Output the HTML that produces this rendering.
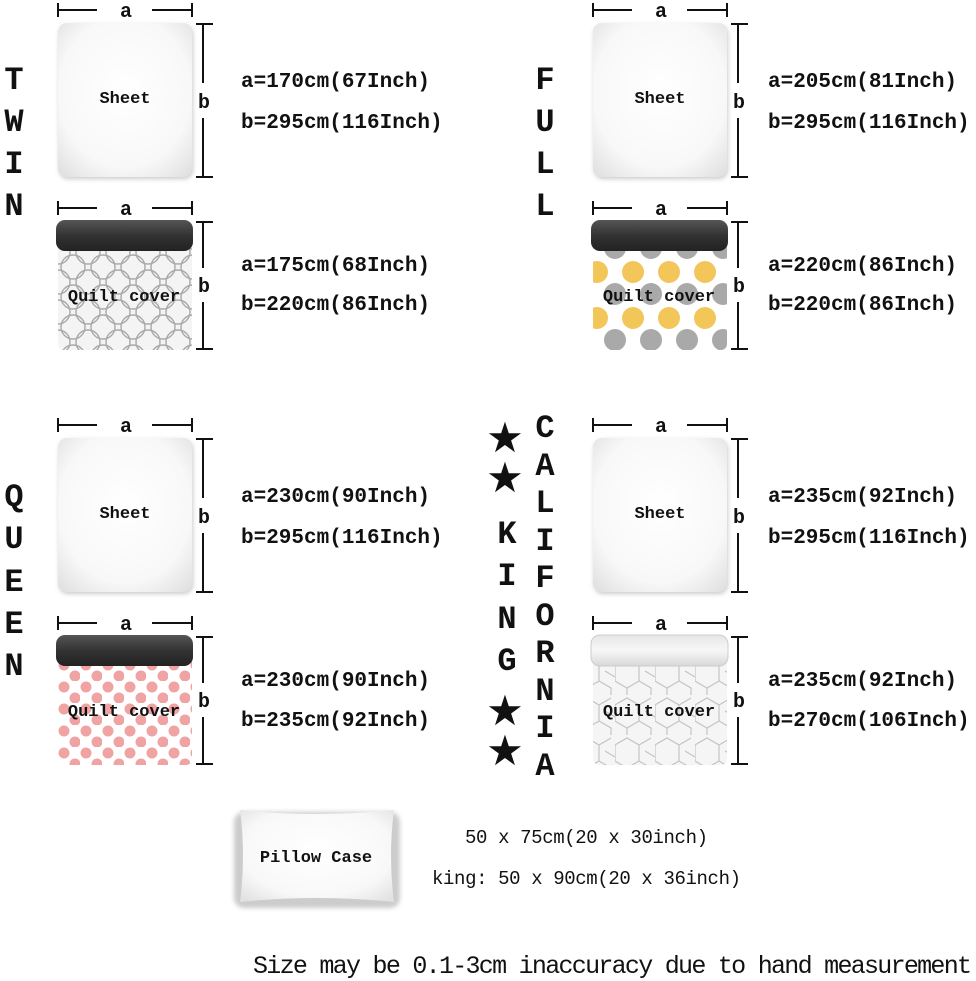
<!DOCTYPE html>
<html><head><meta charset="utf-8"><style>
html,body{margin:0;padding:0;background:#fff;}
svg{display:block;}
text{font-family:"Liberation Mono",monospace;font-weight:bold;fill:#111;}
</style></head><body>
<svg width="976" height="981" viewBox="0 0 976 981" xmlns="http://www.w3.org/2000/svg">
<defs>
<radialGradient id="sh" cx="50%" cy="45%" r="70%">
<stop offset="0" stop-color="#ffffff"/><stop offset="0.7" stop-color="#f8f8f8"/><stop offset="1" stop-color="#e2e2e2"/>
</radialGradient>
<linearGradient id="band" x1="0" y1="0" x2="0" y2="1">
<stop offset="0" stop-color="#555"/><stop offset="0.5" stop-color="#333"/><stop offset="1" stop-color="#222"/>
</linearGradient>
<linearGradient id="bandw" x1="0" y1="0" x2="0" y2="1">
<stop offset="0" stop-color="#e6e6e6"/><stop offset="0.5" stop-color="#f7f7f7"/><stop offset="1" stop-color="#d8d8d8"/>
</linearGradient>
<pattern id="circ" width="30" height="30" patternUnits="userSpaceOnUse" x="58" y="222">
<rect width="30" height="30" fill="#f4f4f4"/>
<g fill="none" stroke="#aaa" stroke-width="1.4">
<circle cx="15" cy="15" r="12"/>
<circle cx="0" cy="0" r="12"/><circle cx="30" cy="0" r="12"/><circle cx="0" cy="30" r="12"/><circle cx="30" cy="30" r="12"/></g>
</pattern>
<pattern id="dots2" width="36" height="46" patternUnits="userSpaceOnUse" x="593" y="248">
<rect width="36" height="46" fill="#fff"/>
<circle cx="22" cy="0" r="11" fill="#a9a9a9"/><circle cx="22" cy="46" r="11" fill="#a9a9a9"/>
<circle cx="4" cy="24" r="11" fill="#f2c659"/><circle cx="40" cy="24" r="11" fill="#f2c659"/>
</pattern>
<pattern id="flow" width="22" height="22" patternUnits="userSpaceOnUse" x="58" y="637">
<rect width="22" height="22" fill="#fff"/>
<g fill="#f0a3a3">
<circle cx="6" cy="6" r="5.5"/><circle cx="17" cy="17" r="5.5"/></g>
</pattern>
<pattern id="hex" width="40" height="40" patternUnits="userSpaceOnUse">
<rect width="40" height="40" fill="#f5f5f5"/>
<g fill="none" stroke="#c4c4c4" stroke-width="1.2">
<path d="M0 10 L12 3 L24 10 L24 26 L12 33 L0 26 Z"/><path d="M24 10 L36 3 M24 26 L36 33 L36 40 M12 33 L12 40 M30 16 L40 22"/></g>
</pattern>
<filter id="shd" x="-10%" y="-10%" width="120%" height="120%"><feGaussianBlur stdDeviation="2"/></filter>
</defs>

<g>
<path d="M58 3V17M58 10H97M152 10H192M192 3V17" stroke="#111" stroke-width="2" fill="none"/>
<text x="126" y="17" font-size="20" text-anchor="middle">a</text>
<rect x="59" y="25" width="134" height="154" rx="9" fill="#ccc" filter="url(#shd)"/>
<rect x="58" y="23" width="134" height="154" rx="9" fill="url(#sh)"/>
<text x="125" y="103" font-size="17" text-anchor="middle">Sheet</text>
<path d="M196 24H213M203 24V83M203 118V177M196 177H213" stroke="#111" stroke-width="2" fill="none"/>
<text x="204" y="108" font-size="20" text-anchor="middle">b</text>
<path d="M58 201V215M58 208H97M152 208H192M192 201V215" stroke="#111" stroke-width="2" fill="none"/>
<text x="126" y="215" font-size="20" text-anchor="middle">a</text>
<rect x="58" y="232" width="134" height="118" rx="6" fill="url(#circ)"/>
<rect x="56" y="220" width="137" height="31" rx="9" fill="url(#band)"/>
<text x="124" y="301" font-size="17" text-anchor="middle">Quilt cover</text>
<path d="M196 222H213M203 222V268M203 302V349M196 349H213" stroke="#111" stroke-width="2" fill="none"/>
<text x="204" y="292" font-size="20" text-anchor="middle">b</text>
<text x="241" y="87" font-size="21">a=170cm(67Inch)</text>
<text x="241" y="128" font-size="21">b=295cm(116Inch)</text>
<text x="241" y="271" font-size="21">a=175cm(68Inch)</text>
<text x="241" y="310" font-size="21">b=220cm(86Inch)</text>
</g>

<g transform="translate(535,0)">
<path d="M58 3V17M58 10H97M152 10H192M192 3V17" stroke="#111" stroke-width="2" fill="none"/>
<text x="126" y="17" font-size="20" text-anchor="middle">a</text>
<rect x="59" y="25" width="134" height="154" rx="9" fill="#ccc" filter="url(#shd)"/>
<rect x="58" y="23" width="134" height="154" rx="9" fill="url(#sh)"/>
<text x="125" y="103" font-size="17" text-anchor="middle">Sheet</text>
<path d="M196 24H213M203 24V83M203 118V177M196 177H213" stroke="#111" stroke-width="2" fill="none"/>
<text x="204" y="108" font-size="20" text-anchor="middle">b</text>
<path d="M58 201V215M58 208H97M152 208H192M192 201V215" stroke="#111" stroke-width="2" fill="none"/>
<text x="126" y="215" font-size="20" text-anchor="middle">a</text>
</g>
<rect x="593" y="232" width="134" height="118" rx="6" fill="url(#dots2)"/>
<rect x="591" y="220" width="137" height="31" rx="9" fill="url(#band)"/>
<text x="659" y="301" font-size="17" text-anchor="middle">Quilt cover</text>
<path d="M731 222H748M738 222V268M738 302V349M731 349H748" stroke="#111" stroke-width="2" fill="none"/>
<text x="739" y="292" font-size="20" text-anchor="middle">b</text>
<text x="768" y="87" font-size="21">a=205cm(81Inch)</text>
<text x="768" y="128" font-size="21">b=295cm(116Inch)</text>
<text x="768" y="271" font-size="21">a=220cm(86Inch)</text>
<text x="768" y="310" font-size="21">b=220cm(86Inch)</text>

<g transform="translate(0,415)">
<path d="M58 3V17M58 10H97M152 10H192M192 3V17" stroke="#111" stroke-width="2" fill="none"/>
<text x="126" y="17" font-size="20" text-anchor="middle">a</text>
<rect x="59" y="25" width="134" height="154" rx="9" fill="#ccc" filter="url(#shd)"/>
<rect x="58" y="23" width="134" height="154" rx="9" fill="url(#sh)"/>
<text x="125" y="103" font-size="17" text-anchor="middle">Sheet</text>
<path d="M196 24H213M203 24V83M203 118V177M196 177H213" stroke="#111" stroke-width="2" fill="none"/>
<text x="204" y="108" font-size="20" text-anchor="middle">b</text>
<path d="M58 201V215M58 208H97M152 208H192M192 201V215" stroke="#111" stroke-width="2" fill="none"/>
<text x="126" y="215" font-size="20" text-anchor="middle">a</text>
<path d="M196 222H213M203 222V268M203 302V349M196 349H213" stroke="#111" stroke-width="2" fill="none"/>
<text x="204" y="292" font-size="20" text-anchor="middle">b</text>
</g>
<rect x="58" y="647" width="134" height="118" rx="6" fill="url(#flow)"/>
<rect x="56" y="635" width="137" height="31" rx="9" fill="url(#band)"/>
<text x="124" y="716" font-size="17" text-anchor="middle">Quilt cover</text>
<text x="241" y="502" font-size="21">a=230cm(90Inch)</text>
<text x="241" y="543" font-size="21">b=295cm(116Inch)</text>
<text x="241" y="686" font-size="21">a=230cm(90Inch)</text>
<text x="241" y="726" font-size="21">b=235cm(92Inch)</text>

<g transform="translate(535,415)">
<path d="M58 3V17M58 10H97M152 10H192M192 3V17" stroke="#111" stroke-width="2" fill="none"/>
<text x="126" y="17" font-size="20" text-anchor="middle">a</text>
<rect x="59" y="25" width="134" height="154" rx="9" fill="#ccc" filter="url(#shd)"/>
<rect x="58" y="23" width="134" height="154" rx="9" fill="url(#sh)"/>
<text x="125" y="103" font-size="17" text-anchor="middle">Sheet</text>
<path d="M196 24H213M203 24V83M203 118V177M196 177H213" stroke="#111" stroke-width="2" fill="none"/>
<text x="204" y="108" font-size="20" text-anchor="middle">b</text>
<path d="M58 201V215M58 208H97M152 208H192M192 201V215" stroke="#111" stroke-width="2" fill="none"/>
<text x="126" y="215" font-size="20" text-anchor="middle">a</text>
<rect x="58" y="232" width="134" height="118" rx="6" fill="url(#hex)"/>
<rect x="56" y="220" width="137" height="31" rx="9" fill="url(#bandw)" stroke="#ccc"/>
<text x="124" y="301" font-size="17" text-anchor="middle">Quilt cover</text>
<path d="M196 222H213M203 222V268M203 302V349M196 349H213" stroke="#111" stroke-width="2" fill="none"/>
<text x="204" y="292" font-size="20" text-anchor="middle">b</text>
</g>
<text x="768" y="502" font-size="21">a=235cm(92Inch)</text>
<text x="768" y="543" font-size="21">b=295cm(116Inch)</text>
<text x="768" y="686" font-size="21">a=235cm(92Inch)</text>
<text x="768" y="726" font-size="21">b=270cm(106Inch)</text>

<g font-size="32" text-anchor="middle">
<text x="14" y="89">T</text><text x="14" y="131">W</text><text x="14" y="173">I</text><text x="14" y="215">N</text>
<text x="545" y="89">F</text><text x="545" y="131">U</text><text x="545" y="173">L</text><text x="545" y="215">L</text>
<text x="14" y="506">Q</text><text x="14" y="548">U</text><text x="14" y="591">E</text><text x="14" y="633">E</text><text x="14" y="675">N</text>
<text x="545" y="437">C</text><text x="545" y="475">A</text><text x="545" y="512">L</text><text x="545" y="550">I</text><text x="545" y="587">F</text><text x="545" y="625">O</text><text x="545" y="662">R</text><text x="545" y="700">N</text><text x="545" y="737">I</text><text x="545" y="775">A</text>
<text x="507" y="543">K</text><text x="507" y="585">I</text><text x="507" y="628">N</text><text x="507" y="670">G</text>
</g>
<g font-size="42" text-anchor="middle">
<text x="505" y="452" style="font-family:'DejaVu Sans',sans-serif">★</text>
<text x="505" y="492" style="font-family:'DejaVu Sans',sans-serif">★</text>
<text x="505" y="725" style="font-family:'DejaVu Sans',sans-serif">★</text>
<text x="505" y="765" style="font-family:'DejaVu Sans',sans-serif">★</text>
</g>

<rect x="234" y="812" width="166" height="96" rx="10" fill="#ccc" filter="url(#shd)"/>
<path d="M240 810 Q316 818 394 810 Q388 856 394 902 Q316 894 240 902 Q246 856 240 810Z" fill="url(#sh)"/>
<text x="316" y="862" font-size="17" text-anchor="middle">Pillow Case</text>
<text x="465" y="843" font-size="19" style="font-weight:normal" textLength="243">50 x 75cm(20 x 30inch)</text>
<text x="432" y="884" font-size="19" style="font-weight:normal" textLength="309">king: 50 x 90cm(20 x 36inch)</text>
<text x="253" y="973" font-size="25" style="font-weight:normal" textLength="719">Size may be 0.1-3cm inaccuracy due to hand measurement</text>
</svg>
</body></html>
